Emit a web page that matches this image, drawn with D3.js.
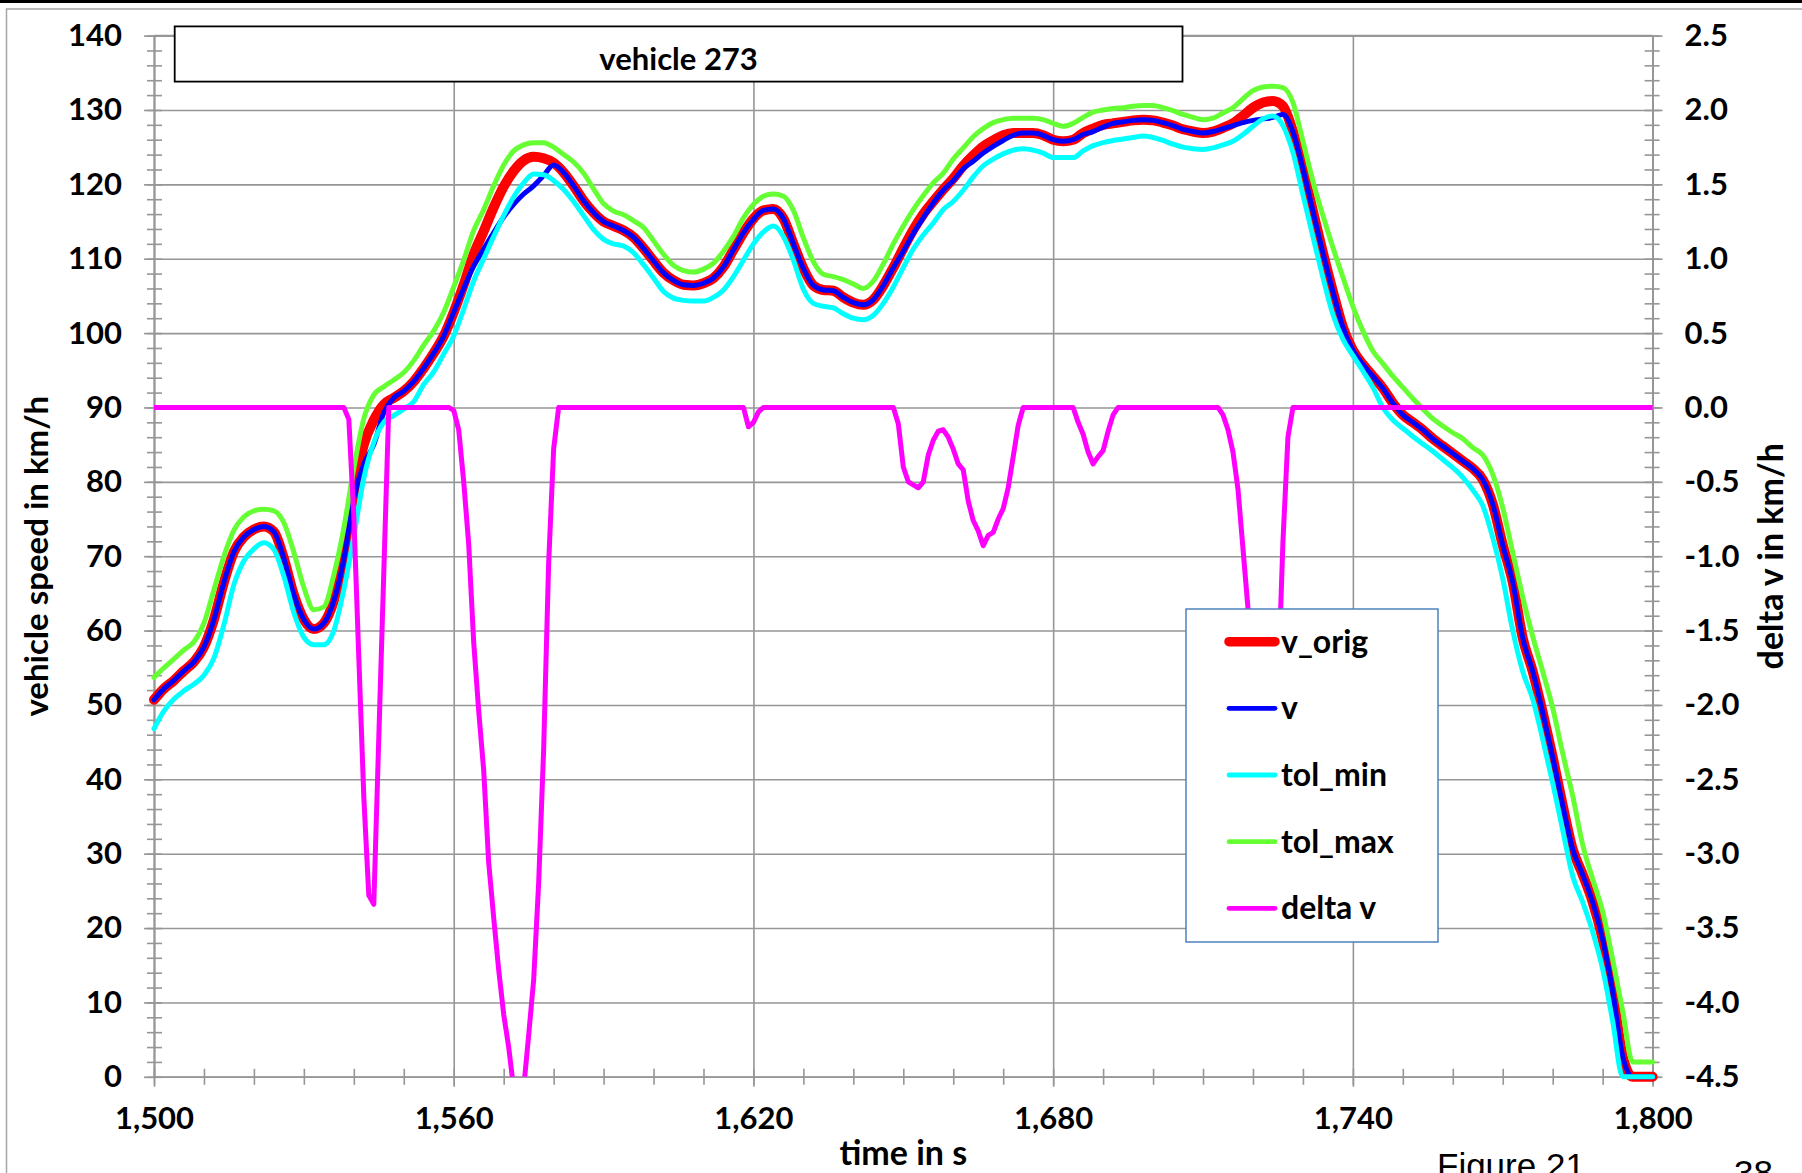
<!DOCTYPE html>
<html>
<head>
<meta charset="utf-8">
<script src="https://cdn.jsdelivr.net/npm/d3@7"></script>
<style>
  html, body { margin: 0; padding: 0; background: #fff; overflow: hidden; }
  svg { display: block; }
  .lbl { font-family: Lato, "Open Sans", sans-serif; font-weight: 700; fill: #000; }
</style>
</head>
<body>
<svg id="chart" width="1802" height="1173"></svg>
<script>
// ---- time axis samples (s) ----
const time = [
  1500,1502,1504,1506,1508,1510,1512,1514,1516,1518,1520,1522,1524,1526,1528,1530,1532,1534,1536,1538,
  1540,1542,1544,1546,1548,1550,1552,1554,1556,1558,1560,1562,1564,1566,1568,1570,1572,1574,1576,1578,
  1580,1582,1584,1586,1588,1590,1592,1594,1596,1598,1600,1602,1604,1606,1608,1610,1612,1614,1616,1618,
  1620,1622,1624,1626,1628,1630,1632,1634,1636,1638,1640,1642,1644,1646,1648,1650,1652,1654,1656,1658,
  1660,1662,1664,1666,1668,1670,1672,1674,1676,1678,1680,1682,1684,1686,1688,1690,1692,1694,1696,1698,
  1700,1702,1704,1706,1708,1710,1712,1714,1716,1718,1720,1722,1724,1726,1728,1730,1732,1734,1736,1738,
  1740,1742,1744,1746,1748,1750,1752,1754,1756,1758,1760,1762,1764,1766,1768,1770,1772,1774,1776,1778,
  1780,1782,1784,1786,1788,1790,1792,1794,1796,1798,1800
];

// original vehicle speed (km/h)
const vOrig = [
  50.7,52.2,53.3,54.6,55.8,57.8,61.5,66.5,70.6,72.6,73.6,74.0,73.3,69.7,64.8,61.5,60.2,61.0,64.0,69.6,
  78.5,85.0,88.3,90.4,91.3,92.2,93.5,95.3,97.3,99.6,102.8,106.5,110.6,113.7,116.9,119.7,121.8,123.2,123.7,123.5,
  122.9,121.6,119.8,117.8,116.2,115.0,114.4,113.8,112.9,111.4,109.7,108.1,107.1,106.5,106.4,106.7,107.4,108.9,111.2,113.5,
  115.4,116.5,116.7,115.4,112.0,108.7,106.4,105.8,105.7,104.8,104.1,103.8,104.5,106.4,108.8,111.4,113.9,116.0,117.7,119.3,
  120.8,122.5,123.9,125.1,125.9,126.6,126.9,126.9,126.9,126.6,126.0,125.8,126.0,126.9,127.5,128.0,128.2,128.4,128.6,128.7,
  128.6,128.3,127.9,127.4,127.1,126.9,127.1,127.6,128.2,129.2,130.3,131.0,131.2,130.5,127.1,122.1,116.4,110.8,105.6,100.8,
  97.7,95.8,94.2,92.6,90.6,89.0,88.0,87.0,85.8,84.8,83.8,82.8,81.8,80.3,77.0,71.5,66.5,59.0,54.5,49.0,
  43.0,36.5,30.6,27.2,23.5,18.5,11.5,2.8,0,0,0
];

// corrected vehicle speed v (km/h)
const vCorr = [
  50.7,52.2,53.3,54.6,55.8,57.8,61.5,66.5,70.6,72.6,73.6,74.0,73.3,69.7,64.8,61.5,60.2,61.0,64.0,69.6,
  77.8,82.4,85.0,89.3,91.3,92.2,93.5,95.3,97.3,99.6,102.8,106.0,109.0,111.3,113.5,115.6,117.3,118.7,119.8,121.2,
  122.6,121.6,119.8,117.8,116.2,115.0,114.4,113.8,112.9,111.4,109.7,108.1,107.1,106.5,106.4,106.7,107.4,108.9,111.2,113.5,
  115.3,116.5,116.7,115.4,112.0,108.7,106.4,105.8,105.7,104.8,104.1,103.8,104.5,106.4,108.8,111.0,113.4,115.5,117.5,119.2,
  120.5,122.1,123.1,124.2,125.1,125.9,126.6,126.9,126.9,126.6,126.0,125.8,126.0,126.7,127.1,127.7,128.2,128.4,128.6,128.7,
  128.6,128.3,127.9,127.4,127.1,126.9,127.1,127.5,127.9,128.3,128.6,128.8,129.0,129.4,127.1,122.1,116.4,110.8,105.6,100.8,
  97.7,95.8,94.2,92.6,90.6,89.0,88.0,87.0,85.8,84.8,83.8,82.8,81.8,80.3,77.0,71.5,66.5,59.0,54.5,49.0,
  43.0,36.5,30.6,27.2,23.5,18.5,11.5,2.8,0,0,0
];

// lower tolerance (km/h)
const tolMin = [
  46.8,49.2,50.8,51.9,52.8,54.0,56.3,60.8,66.2,69.4,71.0,71.8,70.9,67.3,62.4,59.1,58.1,58.1,60.0,65.5,
  72.7,80.5,85.3,88.0,88.9,89.8,90.8,93.1,94.8,97.2,99.6,103.2,107.0,110.0,113.0,115.8,118.3,120.2,121.4,121.3,
  120.5,119.3,117.7,115.8,113.9,112.6,112.0,111.7,110.8,109.2,107.4,105.6,104.7,104.4,104.3,104.3,104.8,105.8,107.6,109.8,
  112.0,113.6,114.4,113.0,109.8,105.9,104.0,103.6,103.4,102.6,102.0,101.8,102.4,104.0,106.2,108.8,111.3,113.2,114.8,116.6,
  117.7,119.2,121.0,122.5,123.4,124.1,124.6,124.8,124.6,124.2,123.6,123.6,123.6,124.5,125.2,125.6,125.9,126.1,126.3,126.5,
  126.3,125.9,125.4,125.0,124.8,124.7,124.9,125.3,125.8,126.7,127.8,128.8,129.2,127.9,124.3,118.6,113.0,107.5,102.5,99.2,
  97.0,94.9,92.7,90.0,88.3,87.2,86.1,85.1,84.1,83.0,81.9,80.6,78.9,76.8,72.5,67.0,60.0,54.5,50.8,45.4,
  39.5,33.2,27.0,23.5,19.5,14.5,7.5,0,0,0,0
];

// upper tolerance (km/h)
const tolMax = [
  53.7,55.0,56.2,57.4,58.5,61.0,65.5,70.0,73.5,75.3,76.1,76.3,76.1,74.5,70.5,65.8,62.8,63.2,67.5,73.8,
  81.8,88.5,91.7,92.8,93.7,94.7,96.3,98.4,100.3,102.8,106.2,109.8,113.8,116.6,119.8,122.6,124.5,125.3,125.6,125.6,
  125.0,124.0,123.0,121.5,119.4,117.4,116.4,115.9,115.1,114.2,112.4,110.6,109.1,108.4,108.2,108.6,109.4,111.0,113.0,115.5,
  117.3,118.4,118.7,118.4,116.5,112.8,109.6,107.9,107.6,107.2,106.6,106.0,107.0,109.3,112.0,114.4,116.6,118.5,120.2,121.5,
  123.4,124.9,126.4,127.5,128.3,128.7,128.9,128.9,128.9,128.7,128.2,127.8,128.2,129.0,129.7,130.0,130.2,130.3,130.5,130.6,
  130.6,130.3,129.9,129.4,129.0,128.7,128.9,129.6,130.3,131.5,132.6,133.1,133.2,133.0,131.0,125.8,120.4,115.8,111.5,107.5,
  103.6,100.3,97.6,95.9,94.2,92.7,91.2,89.8,88.5,87.5,86.6,85.8,84.6,83.6,81.0,76.5,70.5,64.5,59.2,54.5,
  49.6,43.5,37.8,31.2,26.6,22.2,15.8,8.9,2.0,2.0,2.0
];

// delta v = v - v_orig (km/h), secondary axis
const deltaTime = [
  1500,1538,1539,1540,1541,1542,1543,1544,1545,1546,1547,
  1559,1560,1561,1562,1563,1564,1565,1566,1567,1568,1569,1570,1571,1572,1573,1574,1575,1576,1577,1578,1579,1580,1581,
  1618,1619,1620,1621,1622,
  1648,1649,1650,1651,1652,1653,1654,1655,1656,1657,1658,1659,1660,1661,1662,1663,1664,1665,1666,1667,1668,1669,1670,1671,1672,1673,1674,
  1684,1685,1686,1687,1688,1689,1690,1691,1692,1693,
  1713,1714,1715,1716,1717,1718,1719,1720,1721,1722,1723,1724,1725,1726,1727,1728,1800
];
const deltaV = [
  0,0,-0.08,-0.73,-1.68,-2.62,-3.28,-3.34,-2.22,-1.11,0,
  0,-0.02,-0.15,-0.5,-0.92,-1.58,-2.04,-2.44,-3.06,-3.43,-3.78,-4.08,-4.3,-4.58,-4.9,-4.58,-4.22,-3.85,-3.2,-2.3,-1.05,-0.28,0,
  0,-0.13,-0.1,-0.03,0,
  0,-0.11,-0.4,-0.5,-0.52,-0.54,-0.5,-0.32,-0.22,-0.16,-0.15,-0.2,-0.28,-0.38,-0.42,-0.63,-0.76,-0.83,-0.93,-0.86,-0.84,-0.75,-0.68,-0.54,-0.33,-0.12,0,
  0,-0.1,-0.18,-0.3,-0.38,-0.33,-0.29,-0.16,-0.05,0,
  0,-0.05,-0.15,-0.3,-0.55,-0.95,-1.35,-1.7,-2.0,-2.2,-2.3,-2.25,-1.9,-0.9,-0.2,0,0
];

// axis ticks
const speedTicks = [0,10,20,30,40,50,60,70,80,90,100,110,120,130,140];
const deltaTicks = [-4.5,-4.0,-3.5,-3.0,-2.5,-2.0,-1.5,-1.0,-0.5,0.0,0.5,1.0,1.5,2.0,2.5];
const timeTicks = [1500,1560,1620,1680,1740,1800];

const seriesNames = ["v_orig", "v", "tol_min", "tol_max", "delta v"];
const seriesColors = ["#ff0000", "#0000ff", "#00ffff", "#66ff33", "#ff00ff"];
const seriesWidths = [10, 5, 5, 5, 5];

// ---- layout ----
const W = 1802, H = 1173;
const L = 154, R = 1652.6, T = 35.6, B = 1076.8;
const grid = "#969696";

const svg = d3.select("#chart");

const x = d3.scaleLinear().domain([1500, 1800]).range([L, R]);
const y = d3.scaleLinear().domain([0, 140]).range([B, T]);
const y2 = d3.scaleLinear().domain([-4.5, 2.5]).range([B, T]);

// page frame
svg.append("rect").attr("x", 0).attr("y", 0).attr("width", W).attr("height", 3).attr("fill", "#000");
svg.append("rect").attr("x", 6.5).attr("y", 9).attr("width", W + 20).attr("height", H + 20)
  .attr("fill", "none").attr("stroke", "#a6a6a6").attr("stroke-width", 1.5);

// gridlines
const gy = svg.append("g").attr("transform", `translate(${L},0)`)
  .call(d3.axisLeft(y).tickValues(speedTicks.filter(d => d > 0)).tickSize(-(R - L)).tickFormat(""));
const gx = svg.append("g").attr("transform", `translate(0,${B})`)
  .call(d3.axisBottom(x).tickValues(timeTicks.slice(1, -1)).tickSize(-(B - T)).tickFormat(""));
[gy, gx].forEach(g => {
  g.select(".domain").remove();
  g.selectAll("line").attr("stroke", grid).attr("stroke-width", 1.6);
});

function styleAxis(g) {
  g.select(".domain").attr("stroke", grid).attr("stroke-width", 1.6);
  g.selectAll("line").attr("stroke", grid).attr("stroke-width", 1.6);
}
// minor tick positions: every 2 km/h, the matching 0.1 steps on the right, every 10 s
const minorSpeed = d3.range(0, 141, 2);
const minorDelta = minorSpeed.map(v => y2.invert(y(v)));
const minorTime = d3.range(1500, 1801, 10);

// left axis (minor marks cross the axis line)
svg.append("g").attr("transform", `translate(${L},0)`)
  .call(d3.axisRight(y).tickValues(minorSpeed).tickSize(8).tickSizeOuter(0).tickFormat(""))
  .call(styleAxis);
svg.append("g").attr("transform", `translate(${L},0)`)
  .call(d3.axisLeft(y).tickValues(minorSpeed).tickSize(7).tickSizeOuter(0).tickFormat(""))
  .call(styleAxis);
const axL = svg.append("g").attr("transform", `translate(${L},0)`)
  .call(d3.axisLeft(y).tickValues(speedTicks).tickSize(10).tickSizeOuter(0).tickPadding(22))
  .call(styleAxis);

// right axis
svg.append("g").attr("transform", `translate(${R},0)`)
  .call(d3.axisLeft(y2).tickValues(minorDelta).tickSize(8).tickSizeOuter(0).tickFormat(""))
  .call(styleAxis);
svg.append("g").attr("transform", `translate(${R},0)`)
  .call(d3.axisRight(y2).tickValues(minorDelta).tickSize(7).tickSizeOuter(0).tickFormat(""))
  .call(styleAxis);
const axR = svg.append("g").attr("transform", `translate(${R},0)`)
  .call(d3.axisRight(y2).tickValues(deltaTicks).tickSize(10).tickSizeOuter(0).tickPadding(22)
    .tickFormat(d => d.toFixed(1)))
  .call(styleAxis);

// bottom axis
svg.append("g").attr("transform", `translate(0,${B})`)
  .call(d3.axisTop(x).tickValues(minorTime).tickSize(8).tickSizeOuter(0).tickFormat(""))
  .call(styleAxis);
svg.append("g").attr("transform", `translate(0,${B})`)
  .call(d3.axisBottom(x).tickValues(minorTime).tickSize(8).tickSizeOuter(0).tickFormat(""))
  .call(styleAxis);
const axB = svg.append("g").attr("transform", `translate(0,${B})`)
  .call(d3.axisBottom(x).tickValues(timeTicks).tickSize(10).tickSizeOuter(0).tickPadding(20)
    .tickFormat(d3.format(",")))
  .call(styleAxis);

// top border of plot area
svg.append("line").attr("x1", L).attr("x2", R).attr("y1", T).attr("y2", T)
  .attr("stroke", grid).attr("stroke-width", 1.6);

[axL, axR, axB].forEach(g => g.selectAll("text")
  .attr("class", "lbl").attr("font-size", 31).attr("fill", "#000"));

// ---- series ----
const lineSpeed = d3.line().curve(d3.curveMonotoneX).x((d, i) => x(time[i])).y(d => y(d));
const plot = svg.append("g");
[vOrig, vCorr, tolMin, tolMax].forEach((s, k) => {
  plot.append("path").datum(s)
    .attr("d", lineSpeed)
    .attr("fill", "none")
    .attr("stroke", seriesColors[k])
    .attr("stroke-width", seriesWidths[k])
    .attr("stroke-linejoin", "round")
    .attr("stroke-linecap", "round");
});

svg.append("clipPath").attr("id", "clipDelta")
  .append("rect").attr("x", L - 5).attr("y", T - 10).attr("width", R - L + 10).attr("height", B - T + 10);

const lineDelta = d3.line().x((d, i) => x(deltaTime[i])).y(d => y2(d));
plot.append("path").datum(deltaV)
  .attr("d", lineDelta)
  .attr("clip-path", "url(#clipDelta)")
  .attr("fill", "none")
  .attr("stroke", seriesColors[4])
  .attr("stroke-width", seriesWidths[4])
  .attr("stroke-linejoin", "round");

// ---- title box ----
svg.append("rect").attr("x", 174.7).attr("y", 26.4).attr("width", 1007.8).attr("height", 55.2)
  .attr("fill", "#fff").attr("stroke", "#000").attr("stroke-width", 1.8);
svg.append("text").attr("class", "lbl").attr("x", 678.6).attr("y", 69.5)
  .attr("text-anchor", "middle").attr("font-size", 31).text("vehicle 273");

// ---- axis titles ----
svg.append("text").attr("class", "lbl").attr("font-size", 33)
  .attr("text-anchor", "middle")
  .attr("transform", `translate(55,${(T + B) / 2}) rotate(-90)`)
  .attr("dy", "-0.2em")
  .text("vehicle speed in km/h");
svg.append("text").attr("class", "lbl").attr("font-size", 34)
  .attr("text-anchor", "middle")
  .attr("transform", `translate(1783,${(T + B) / 2}) rotate(-90)`)
  .text("delta v in km/h");
svg.append("text").attr("class", "lbl").attr("font-size", 34)
  .attr("text-anchor", "middle").attr("x", (L + R) / 2).attr("y", 1165)
  .text("time in s");

// ---- legend ----
const lg = svg.append("g");
lg.append("rect").attr("x", 1186).attr("y", 609).attr("width", 252).attr("height", 333)
  .attr("fill", "#fff").attr("stroke", "#4f81bd").attr("stroke-width", 1.5);
const rowY = [641.7, 708.3, 775, 841.7, 908.3];
seriesNames.forEach((name, k) => {
  lg.append("line").attr("x1", 1229).attr("x2", 1275)
    .attr("y1", rowY[k]).attr("y2", rowY[k])
    .attr("stroke", seriesColors[k]).attr("stroke-width", k === 0 ? 9.5 : 4.8)
    .attr("stroke-linecap", "round");
  lg.append("text").attr("class", "lbl").attr("font-size", 32)
    .attr("x", 1281).attr("y", rowY[k] + 11).text(name);
});

// ---- page footer ----
svg.append("text").attr("x", 1437).attr("y", 1178)
  .attr("font-family", "'Liberation Sans', Arial, sans-serif").attr("font-size", 35)
  .attr("fill", "#000").text("Figure 21");
svg.append("text").attr("x", 1734).attr("y", 1185)
  .attr("font-family", "'Liberation Sans', Arial, sans-serif").attr("font-size", 35)
  .attr("fill", "#000").text("38");
</script>
</body>
</html>
